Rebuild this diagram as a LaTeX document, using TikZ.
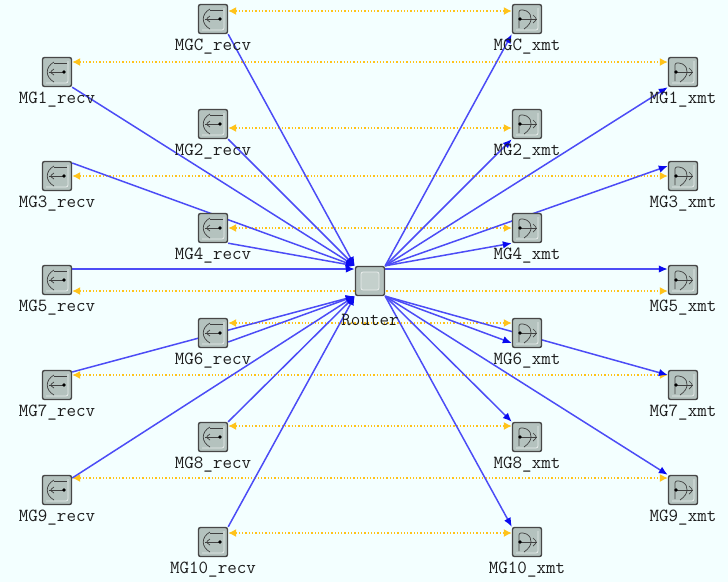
\documentclass[tikz,border=0pt]{standalone}
\usetikzlibrary{arrows.meta,backgrounds}
\definecolor{paper}{HTML}{F3FFFF}
\definecolor{boxgrey}{HTML}{B4C2BE}
\definecolor{boxlight}{HTML}{C4D0CC}
\definecolor{linkblue}{HTML}{4C4CF6}
\definecolor{tipblue}{HTML}{0A0AF0}
\definecolor{ctrlyellow}{HTML}{FFC31A}
\definecolor{labelgrey}{HTML}{1E1E1E}
\begin{document}
\begin{tikzpicture}[
        x=1pt, y=-1pt,
        lab/.style={font=\ttfamily\fontsize{18.5}{18.5}\selectfont, text=labelgrey, inner sep=0pt, label distance=5pt},
        every label/.style={lab},
        box/.style={rectangle, draw=black!72, line width=1.4pt, rounded corners=2pt, fill=boxgrey,
            minimum size=29pt, inner sep=0pt},
        recvbox/.style={box, path picture={
            \begin{scope}[shift={(path picture bounding box.center)}]
                \draw[white!70!boxgrey, line width=0.8pt] (-11,11) -- (11,11) -- (11,-11);
                \draw[black!75, line width=0.7pt] (-3,-10) .. controls (-12,-5) and (-12,5) .. (-3,10);
                \draw[black!75, line width=0.7pt] (-3,-9) -- (10,-9);
                \draw[black!75, line width=0.7pt] (-8,0) -- (7,0);
                \draw[black!75, line width=0.7pt] (-3,-3) -- (-7,0) -- (-3,3);
                \fill[black] (7,0) circle (1.8);
            \end{scope}}},
        xmtbox/.style={box, path picture={
            \begin{scope}[shift={(path picture bounding box.center)}]
                \draw[white!70!boxgrey, line width=0.8pt] (-11,11) -- (11,11) -- (11,-11);
                \draw[black!75, line width=0.7pt] (-8,9) -- (-8,-9) -- (-2,-9) .. controls (6,-4) and (6,4) .. (-3,10);
                \draw[black!75, line width=0.7pt] (-7,0) -- (10,0);
                \draw[black!75, line width=0.7pt] (6,-4) -- (10,0) -- (6,4);
                \fill[black] (-7,0) circle (1.8);
            \end{scope}}},
        routerbox/.style={box, path picture={
            \draw[white!70!boxgrey, line width=0.8pt, fill=boxlight]
                ([shift={(-9,-9)}]path picture bounding box.center) rectangle
                ([shift={(9,9)}]path picture bounding box.center);}},
        link/.style={draw=linkblue, line width=1.5pt, -{Latex[length=9pt,width=7.5pt,color=tipblue]}},
        ctrl/.style={draw=ctrlyellow, line width=1.3pt, dotted, {Latex[length=8pt,width=8pt,color=ctrlyellow]}-{Latex[length=8pt,width=8pt,color=ctrlyellow]}}]
    \useasboundingbox (0,0) rectangle (728,582);

    \node[routerbox, label={[label distance=18pt]below:Router}] (router) at (370,281) {};

    \node[recvbox, label={below:MGC\_recv}] (recvC) at (213,19) {};
    \node[recvbox, label={below:MG1\_recv}] (recv1) at (57,72) {};
    \node[recvbox, label={below:MG2\_recv}] (recv2) at (213,124) {};
    \node[recvbox, label={below:MG3\_recv}] (recv3) at (57,176) {};
    \node[recvbox, label={below:MG4\_recv}] (recv4) at (213,228) {};
    \node[recvbox, label={below:MG5\_recv}] (recv5) at (57,280) {};
    \node[recvbox, label={below:MG6\_recv}] (recv6) at (213,333) {};
    \node[recvbox, label={below:MG7\_recv}] (recv7) at (57,385) {};
    \node[recvbox, label={below:MG8\_recv}] (recv8) at (213,437) {};
    \node[recvbox, label={below:MG9\_recv}] (recv9) at (57,490) {};
    \node[recvbox, label={below:MG10\_recv}] (recv10) at (213,542) {};

    \node[xmtbox, label={below:MGC\_xmt}] (xmtC) at (527,19) {};
    \node[xmtbox, label={below:MG1\_xmt}] (xmt1) at (683,72) {};
    \node[xmtbox, label={below:MG2\_xmt}] (xmt2) at (527,124) {};
    \node[xmtbox, label={below:MG3\_xmt}] (xmt3) at (683,176) {};
    \node[xmtbox, label={below:MG4\_xmt}] (xmt4) at (527,228) {};
    \node[xmtbox, label={below:MG5\_xmt}] (xmt5) at (683,280) {};
    \node[xmtbox, label={below:MG6\_xmt}] (xmt6) at (527,333) {};
    \node[xmtbox, label={below:MG7\_xmt}] (xmt7) at (683,385) {};
    \node[xmtbox, label={below:MG8\_xmt}] (xmt8) at (527,437) {};
    \node[xmtbox, label={below:MG9\_xmt}] (xmt9) at (683,490) {};
    \node[xmtbox, label={below:MG10\_xmt}] (xmt10) at (527,542) {};

    \begin{scope}[on background layer]
        \fill[paper] (0,0) rectangle (728,582);

        % control links
        \draw[ctrl] ([yshift=8pt]recvC.east) -- ([yshift=8pt]xmtC.west);
        \draw[ctrl] ([yshift=10pt]recv1.east) -- ([yshift=10pt]xmt1.west);
        \draw[ctrl] ([yshift=-4pt]recv2.east) -- ([yshift=-4pt]xmt2.west);
        \draw[ctrl] (recv3.east) -- (xmt3.west);
        \draw[ctrl] (recv4.east) -- (xmt4.west);
        \draw[ctrl] ([yshift=-11pt]recv5.east) -- ([yshift=-11pt]xmt5.west);
        \draw[ctrl] ([yshift=10pt]recv6.east) -- ([yshift=10pt]xmt6.west);
        \draw[ctrl] ([yshift=10pt]recv7.east) -- ([yshift=10pt]xmt7.west);
        \draw[ctrl] ([yshift=11pt]recv8.east) -- ([yshift=11pt]xmt8.west);
        \draw[ctrl] ([yshift=12pt]recv9.east) -- ([yshift=12pt]xmt9.west);
        \draw[ctrl] ([yshift=9pt]recv10.east) -- ([yshift=9pt]xmt10.west);

        % into the router
        \draw[link] (recvC.south east) -- (router.north west);
        \draw[link] (recv1.south east) -- (router.north west);
        \draw[link] (recv2.south east) -- (router.north west);
        \draw[link] ([yshift=13pt]recv3.east) -- (router.north west);
        \draw[link] (recv4.south east) -- (router.north west);
        \draw[link] ([yshift=11pt]recv5.east) -- ([yshift=12pt]router.west);
        \draw[link] ([yshift=-9pt]recv6.east) -- (router.south west);
        \draw[link] ([yshift=13pt]recv7.east) -- (router.south west);
        \draw[link] (recv8.north east) -- (router.south west);
        \draw[link] ([yshift=12pt]recv9.east) -- (router.south west);
        \draw[link] (recv10.north east) -- (router.south west);

        % out of the router
        \draw[link] (router.north east) -- (xmtC.south west);
        \draw[link] (router.north east) -- (xmt1.south west);
        \draw[link] (router.north east) -- (xmt2.south west);
        \draw[link] (router.north east) -- ([yshift=10pt]xmt3.west);
        \draw[link] (router.north east) -- (xmt4.south west);
        \draw[link] ([yshift=12pt]router.east) -- ([yshift=11pt]xmt5.west);
        \draw[link] (router.south east) -- ([yshift=-10pt]xmt6.west);
        \draw[link] (router.south east) -- ([yshift=10pt]xmt7.west);
        \draw[link] (router.south east) -- (xmt8.north west);
        \draw[link] (router.south east) -- (xmt9.north west);
        \draw[link] (router.south east) -- (xmt10.north west);
    \end{scope}
\end{tikzpicture}
\end{document}
